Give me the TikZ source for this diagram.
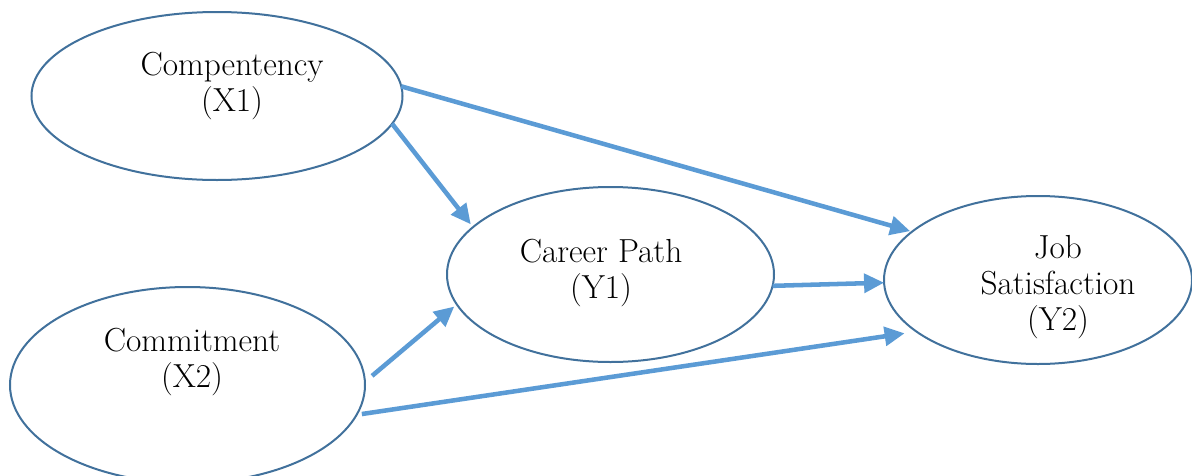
\documentclass[tikz,border=0pt]{standalone}
\usetikzlibrary{shapes.geometric,arrows.meta}
\definecolor{outline}{HTML}{41719C}
\definecolor{link}{HTML}{5B9BD5}
\begin{document}
\begin{tikzpicture}[x=0.75pt,y=-0.75pt,
  construct/.style={ellipse,draw=outline,line width=1.5pt,fill=white,
    inner sep=0pt,outer sep=0pt},
  label/.style={align=center,inner sep=0pt,
    font=\fontsize{25}{27}\selectfont},
  path/.style={draw=link,line width=3.4pt,
    -{Triangle[length=15pt,width=14pt]}}]
  \useasboundingbox (0,0) rectangle (1192,475);
  \clip (0,0) rectangle (1192,475);

  % latent constructs
  \node[construct,minimum width=278.25pt,minimum height=126pt] (comp) at (217,96) {};
  \node[construct,minimum width=266.25pt,minimum height=147pt] (comm) at (187.5,385) {};
  \node[construct,minimum width=245.25pt,minimum height=131.25pt] (career) at (610.5,274.5) {};
  \node[construct,minimum width=231pt,minimum height=126pt] (job) at (1038,280) {};

  % construct names
  \node[label] (comptext) at (232,86) {Compentency\\(X1)};
  \node[label] (commtext) at (192,362) {Commitment\\(X2)};
  \node[label] (careertext) at (601,273) {Career Path\\(Y1)};
  \node[label] (jobtext) at (1058,287) {Job\\Satisfaction\\(Y2)};

  % structural paths
  \draw[path,shorten >=1.5pt] (comp.3) -- (job.159);
  \draw[path,shorten >=2.7pt] (comp.-9) -- (career.161);
  \draw[path] (career.-4) -- (job.181);
  \draw[path,shorten <=7pt,shorten >=2.5pt] (comm.1.6) -- (career.191);
  \draw[path,shorten <=4pt,shorten >=9pt] (comm.-10) -- (job.203);
\end{tikzpicture}
\end{document}
